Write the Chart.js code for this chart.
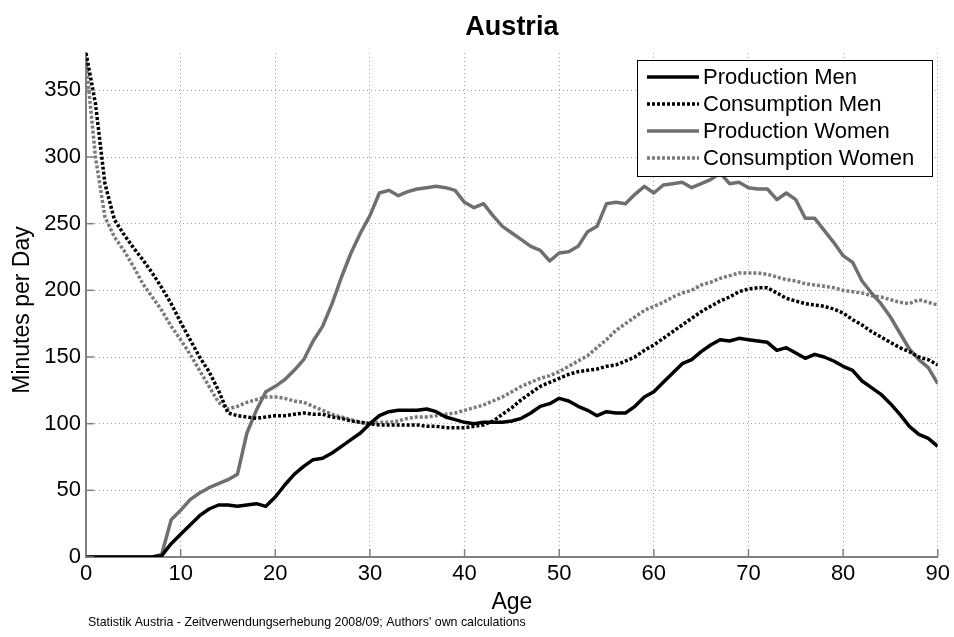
<!DOCTYPE html>
<html>
<head>
<meta charset="utf-8">
<script src="https://cdn.jsdelivr.net/npm/chart.js@4.4.0/dist/chart.umd.min.js"></script>
<style>
  html, body { margin: 0; padding: 0; background: #fff; }
  #wrap { width: 954px; height: 637px; }
</style>
</head>
<body>
<div id="wrap"><canvas id="austria" width="954" height="637"></canvas></div>
<script>
// ages 0..90, minutes per day
const ages = Array.from({ length: 91 }, (_, i) => i);
const prodMen = [0,0,0,0,0,0,0,0,1,10, 17,24,31,36,39,39,38,39,40,38,
  45,54,62,68,73,74,78,83,88,93, 100,106,109,110,110,110,111,109,105,103,
  101,100,101,101,101,102,104,108,113,115, 119,117,113,110,106,109,108,108,113,120,
  124,131,138,145,148,154,159,163,162,164, 163,162,161,155,157,153,149,152,150,147,
  143,140,132,127,122,115,107,98,92,89, 83];
const consMen = [378,340,280,253,242,232,223,213,202,190, 176,163,150,139,125,108,106,105,104,105,
  106,106,107,108,107,107,105,104,102,101, 100,99,99,99,99,99,98,98,97,97,
  97,98,99,102,107,112,118,123,128,131, 134,137,139,140,141,143,144,147,150,155,
  159,164,169,174,179,184,188,192,195,199, 201,202,202,198,194,192,190,189,188,186,
  183,178,174,169,165,161,157,154,150,148, 144];
const prodWomen = [0,0,0,0,0,0,0,0,2,28, 35,43,48,52,55,58,62,93,110,124,
  128,133,140,148,162,173,190,210,228,243, 256,273,275,271,274,276,277,278,277,275,
  266,262,265,256,248,243,238,233,230,222, 228,229,233,244,248,265,266,265,272,278,
  273,279,280,281,277,280,283,288,280,281, 277,276,276,268,273,268,254,254,245,236,
  226,221,207,198,190,180,168,156,148,142, 130];
const consWomen = [372,300,255,240,230,218,205,195,185,173, 163,152,140,128,116,111,113,116,118,120,
  120,119,117,116,113,110,107,105,103,101, 100,101,101,102,104,105,105,106,107,108,
  110,112,114,117,120,124,128,131,134,136, 139,143,147,151,157,163,170,175,180,185,
  188,191,195,198,200,204,206,209,211,213, 213,213,212,210,208,207,205,204,203,202,
  200,199,198,196,195,193,191,190,193,191, 189];

const seriesNames = ["Production Men", "Consumption Men", "Production Women", "Consumption Women"];
const xTicks = [0, 10, 20, 30, 40, 50, 60, 70, 80, 90];
const yTicks = [0, 50, 100, 150, 200, 250, 300, 350];

const FONT = "'Liberation Sans', Arial, sans-serif";
const GRAY = "#6f6f6f";

const pts = (vals) => vals.map((v, i) => ({ x: ages[i], y: v }));

// legend box drawn inside the plot, top right
const insideLegend = {
  id: "insideLegend",
  afterDraw(chart) {
    const { ctx } = chart;
    const x0 = 637, y0 = 60, w = 295, h = 116;
    ctx.save();
    ctx.fillStyle = "#fff";
    ctx.fillRect(x0, y0, w, h);
    ctx.strokeStyle = "#000";
    ctx.lineWidth = 1;
    ctx.strokeRect(x0 + 0.5, y0 + 0.5, w, h);
    chart.data.datasets.forEach((ds, i) => {
      const cy = 77 + i * 27;
      ctx.beginPath();
      ctx.strokeStyle = ds.borderColor;
      ctx.lineWidth = ds.borderWidth;
      ctx.setLineDash(ds.borderDash || []);
      ctx.moveTo(647, cy);
      ctx.lineTo(699, cy);
      ctx.stroke();
      ctx.setLineDash([]);
      ctx.fillStyle = "#000";
      ctx.font = "22px " + FONT;
      ctx.textBaseline = "middle";
      ctx.textAlign = "left";
      ctx.fillText(ds.label, 703, cy + 1);
    });
    ctx.restore();
  },
};

// inward tick marks, titles and source note
const decorations = {
  id: "decorations",
  afterDatasetsDraw(chart) {
    const { ctx, chartArea: { left, bottom }, scales: { x, y } } = chart;
    ctx.save();
    ctx.strokeStyle = "#808080";
    ctx.lineWidth = 1.5;
    xTicks.forEach((v) => {
      const px = x.getPixelForValue(v);
      ctx.beginPath();
      ctx.moveTo(px, bottom);
      ctx.lineTo(px, bottom - 8);
      ctx.stroke();
    });
    yTicks.forEach((v) => {
      const py = y.getPixelForValue(v);
      ctx.beginPath();
      ctx.moveTo(left, py);
      ctx.lineTo(left + 8, py);
      ctx.stroke();
    });
    ctx.restore();
  },
  afterDraw(chart) {
    const { ctx, chartArea: { left, right } } = chart;
    const cx = (left + right) / 2;
    ctx.save();
    ctx.fillStyle = "#000";
    ctx.textAlign = "center";
    ctx.textBaseline = "middle";
    ctx.font = "bold 27px " + FONT;
    ctx.fillText("Austria", cx, 28);
    ctx.font = "23px " + FONT;
    ctx.fillText("Age", cx, 603);
    ctx.translate(23, 310);
    ctx.rotate(-Math.PI / 2);
    ctx.fillText("Minutes per Day", 0, 0);
    ctx.restore();
    ctx.save();
    ctx.fillStyle = "#000";
    ctx.font = "12.4px " + FONT;
    ctx.textAlign = "left";
    ctx.textBaseline = "middle";
    ctx.fillText("Statistik Austria - Zeitverwendungserhebung 2008/09; Authors' own calculations", 88, 623);
    ctx.restore();
  },
};

const gridDots = (ctx) => (ctx.tick && ctx.tick.value === 0 ? "rgba(0,0,0,0)" : "#a8a8a8");

new Chart(document.getElementById("austria"), {
  type: "line",
  data: {
    datasets: [
      { label: seriesNames[0], data: pts(prodMen), borderColor: "#000", borderWidth: 3.5 },
      { label: seriesNames[1], data: pts(consMen), borderColor: "#000", borderWidth: 3.5, borderDash: [3, 2] },
      { label: seriesNames[2], data: pts(prodWomen), borderColor: GRAY, borderWidth: 3.5 },
      { label: seriesNames[3], data: pts(consWomen), borderColor: "#7a7a7a", borderWidth: 3.5, borderDash: [3, 2] },
    ],
  },
  options: {
    responsive: false,
    animation: false,
    events: [],
    elements: { point: { radius: 0 }, line: { tension: 0, borderCapStyle: "butt", borderJoinStyle: "round" } },
    layout: { padding: { top: 53, right: 16, left: 0, bottom: 0 } },
    plugins: { legend: { display: false }, tooltip: { enabled: false }, title: { display: false } },
    scales: {
      x: {
        type: "linear",
        min: 0,
        max: 90,
        afterFit: (s) => { s.height = 80; },
        afterBuildTicks: (s) => { s.ticks = xTicks.map((v) => ({ value: v })); },
        grid: { color: gridDots, lineWidth: 1, drawTicks: false },
        border: { color: "#808080", width: 2, dash: [1, 3] },
        ticks: { color: "#000", font: { family: FONT, size: 22 }, padding: 4, maxRotation: 0 },
      },
      y: {
        type: "linear",
        min: 0,
        max: 378,
        afterFit: (s) => { s.width = 86; },
        afterBuildTicks: (s) => { s.ticks = yTicks.map((v) => ({ value: v })); },
        grid: { color: gridDots, lineWidth: 1, drawTicks: false },
        border: { color: "#808080", width: 2, dash: [1, 3] },
        ticks: { color: "#000", font: { family: FONT, size: 22 }, padding: 5 },
      },
    },
  },
  plugins: [decorations, insideLegend],
});
</script>
</body>
</html>
